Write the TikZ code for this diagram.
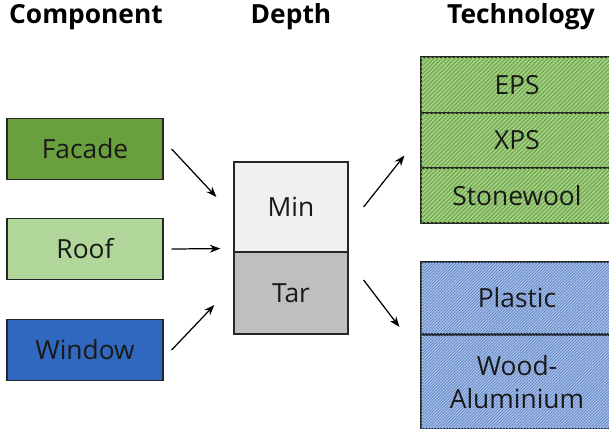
\documentclass[tikz,border=0pt]{standalone}
\usepackage{fontspec}
\setmainfont{Open Sans}
\usetikzlibrary{calc,arrows.meta,patterns.meta}
\definecolor{facadegreen}{HTML}{6A9F3D}
\definecolor{roofgreen}{HTML}{B1D699}
\definecolor{windowblue}{HTML}{3168BF}
\definecolor{mingray}{HTML}{F0F0F0}
\definecolor{targray}{HTML}{BFBFBF}
\definecolor{hatchgreen}{HTML}{A9D18E}
\definecolor{hatchgreenline}{HTML}{6FAA46}
\definecolor{hatchblue}{HTML}{B4C7E7}
\definecolor{hatchblueline}{HTML}{5F88CF}
\begin{document}
\begin{tikzpicture}[x=0.02cm,y=-0.02cm,
    title/.style={font=\fontsize{15}{17}\selectfont\bfseries},
    box/.style={draw=black!85,line width=0.7pt,inner sep=0pt,align=center,text=black!90,
        font=\fontsize{15}{18.5}\selectfont},
    greentech/.style={box,fill=hatchgreen,
        postaction={pattern={Lines[angle=45,distance=1.7pt,line width=0.7pt]},pattern color=hatchgreenline}},
    bluetech/.style={box,fill=hatchblue,
        postaction={pattern={Lines[angle=45,distance=1.2pt,line width=0.5pt]},pattern color=hatchblueline}},
    arr/.style={-{Stealth[length=6pt,width=4.5pt]},line width=0.7pt}]
    \useasboundingbox (0,0) rectangle (609,433);
    \clip (0,0) rectangle (609,433);
    % headings
    \node[title] (hcomp) at (86,17) {Component};
    \node[title] (hdepth) at (291,17) {Depth};
    \node[title] (htech) at (521,17) {Technology};
    % components
    \foreach \n/\y/\c/\t in {facade/149/facadegreen/Facade,roof/249/roofgreen/Roof,window/350/windowblue/Window}
        \node[box,fill=\c,minimum width=3.12cm,minimum height=1.22cm] (\n) at (85,\y) {\t};
    % depth
    \node[box,fill=mingray,minimum width=2.28cm,minimum height=1.8cm] (min) at (291,207) {Min};
    \node[box,fill=targray,minimum width=2.28cm,minimum height=1.64cm] (tar) at (291,293) {Tar};
    % technologies
    \node[greentech,minimum width=3.84cm,minimum height=1.12cm] (eps) at (517,85) {EPS};
    \node[greentech,minimum width=3.84cm,minimum height=1.1cm] (xps) at (517,140.5) {XPS};
    \node[greentech,minimum width=3.84cm,minimum height=1.1cm] (stone) at (517,195.5) {Stonewool};
    \node[bluetech,minimum width=3.84cm,minimum height=1.44cm] (plastic) at (517,298) {Plastic};
    \node[bluetech,minimum width=3.84cm,minimum height=1.86cm] (wood) at (517,382) {Wood-\\Aluminium};
    % arrows
    \draw[arr] ($(facade.east)+(8,0)$) -- ($(min.west)+(-17,-10)$);
    \draw[arr] ($(roof.east)+(8,0)$) -- ($(min.south west)+(-13,-4)$);
    \draw[arr] ($(window.east)+(8,0)$) -- ($(tar.west)+(-19,12)$);
    \draw[arr] ($(min.east)+(15,0)$) -- ($(xps.west)+(-16,15)$);
    \draw[arr] ($(tar.east)+(15,-13)$) -- ($(plastic.west)+(-21,29)$);
\end{tikzpicture}
\end{document}
